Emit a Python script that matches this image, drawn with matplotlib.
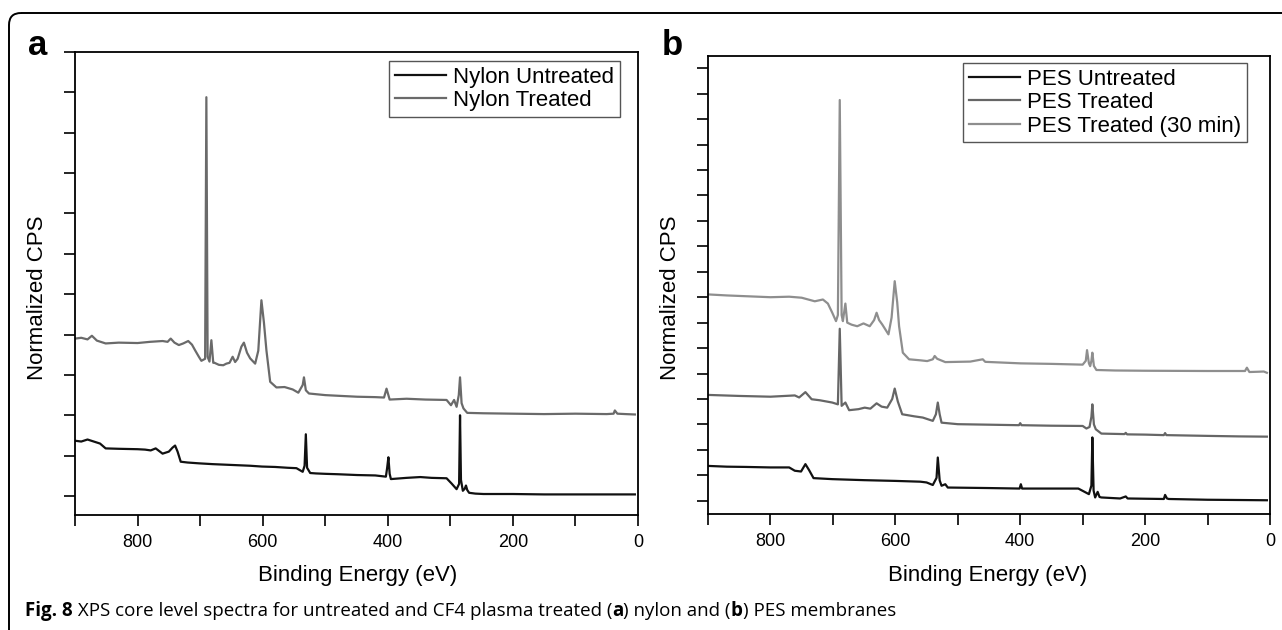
"""
XPS survey spectra, nylon (a) and PES (b) membranes -> out.png
"""
import matplotlib.pyplot as plt
import matplotlib.patches as mpatches
from matplotlib.ticker import MultipleLocator, NullFormatter

plt.rcParams["font.family"] = ["Liberation Sans", "DejaVu Sans"]

# ---------------------------------------------------------------
# DATA  (binding energy eV, normalized CPS in tick units)
# ---------------------------------------------------------------
nylon_untreated = [
    (900, 1.37), (890, 1.35), (880, 1.40), (870, 1.35), (860, 1.30), (851, 1.18),
    (830, 1.17), (800, 1.16), (788, 1.15), (779, 1.13), (771, 1.18), (760, 1.05),
    (750, 1.10), (744, 1.20), (740, 1.25), (736, 1.10), (731, 0.85), (720, 0.83),
    (702, 0.81), (680, 0.79), (650, 0.77), (620, 0.75), (601, 0.73), (580, 0.72),
    (560, 0.70), (546, 0.69), (536, 0.60), (533, 0.75), (531, 1.53), (529, 0.70),
    (524, 0.57), (515, 0.56), (500, 0.55), (480, 0.54), (449, 0.52), (420, 0.51),
    (403, 0.48), (401, 0.70), (399, 0.96), (397, 0.55), (395, 0.42), (370, 0.45),
    (348, 0.47), (330, 0.45), (306, 0.44), (298, 0.31), (290, 0.17), (286, 0.30),
    (284.5, 2.00), (283, 0.40), (280, 0.13), (277, 0.18), (275, 0.26), (273, 0.15),
    (270, 0.08), (260, 0.06), (247, 0.05), (200, 0.05), (150, 0.04), (100, 0.04),
    (50, 0.04), (5, 0.04),
]
nylon_treated = [
    (900, 3.90), (890, 3.92), (880, 3.88), (873, 3.97), (865, 3.85), (851, 3.78),
    (830, 3.80), (800, 3.79), (780, 3.82), (760, 3.84), (752, 3.82), (747, 3.90),
    (741, 3.80), (734, 3.74), (727, 3.78), (719, 3.84), (713, 3.75), (708, 3.61),
    (702, 3.45), (698, 3.35), (692, 3.40), (690, 9.88), (688, 3.45), (685, 3.33),
    (682, 3.86), (679, 3.30), (677, 3.30), (670, 3.25), (663, 3.24), (658, 3.28),
    (653, 3.30), (648, 3.45), (644, 3.32), (640, 3.40), (634, 3.70), (630, 3.80),
    (625, 3.55), (620, 3.41), (612, 3.28), (607, 3.60), (602, 4.85), (598, 4.30),
    (594, 3.61), (588, 2.83), (578, 2.69), (565, 2.70), (552, 2.64), (543, 2.56),
    (536, 2.75), (534, 2.94), (531, 2.62), (526, 2.54), (500, 2.50), (475, 2.48),
    (449, 2.46), (420, 2.45), (406, 2.44), (402, 2.66), (397, 2.39), (370, 2.41),
    (340, 2.39), (306, 2.38), (299, 2.25), (294, 2.38), (290, 2.21), (286.5, 2.50),
    (284.5, 2.94), (282, 2.30), (279, 2.17), (273, 2.06), (247, 2.05), (200, 2.04),
    (150, 2.03), (100, 2.04), (50, 2.03), (39, 2.04), (37, 2.12), (33, 2.04),
    (20, 2.03), (5, 2.02),
]
pes_untreated = [
    (900, 1.37), (870, 1.34), (840, 1.33), (800, 1.31), (770, 1.31), (761, 1.18),
    (751, 1.15), (744, 1.44), (738, 1.20), (731, 0.89), (701, 0.85), (650, 0.81),
    (599, 0.78), (560, 0.75), (550, 0.72), (540, 0.62), (534, 0.90), (532, 1.70),
    (529, 0.80), (526, 0.59), (520, 0.65), (516, 0.52), (451, 0.50), (401, 0.48),
    (399, 0.65), (397, 0.48), (350, 0.48), (307, 0.48), (300, 0.39), (290, 0.26),
    (286, 0.60), (284.5, 2.49), (282.5, 0.40), (280, 0.13), (276, 0.35), (273, 0.15),
    (270, 0.13), (240, 0.09), (231, 0.17), (228, 0.09), (200, 0.08), (170, 0.07),
    (168, 0.23), (165, 0.09), (162, 0.07), (100, 0.04), (50, 0.03), (5, 0.02),
]
pes_treated = [
    (900, 4.16), (850, 4.12), (800, 4.09), (761, 4.14), (754, 4.06), (744, 4.27),
    (734, 3.99), (721, 3.95), (701, 3.86), (692, 3.79), (689, 6.76), (686, 3.73),
    (680, 3.86), (674, 3.56), (659, 3.60), (649, 3.66), (640, 3.62), (630, 3.83),
    (622, 3.70), (613, 3.66), (605, 4.00), (601, 4.41), (596, 3.90), (589, 3.40),
    (570, 3.32), (556, 3.27), (540, 3.14), (535, 3.40), (532, 3.86), (529, 3.40),
    (526, 3.07), (500, 3.01), (450, 2.99), (402, 2.97), (400, 3.05), (398, 2.97),
    (350, 2.95), (300, 2.94), (294, 2.84), (289, 2.90), (286, 3.30), (284.5, 3.79),
    (282, 3.00), (279, 2.81), (270, 2.64), (233, 2.62), (231, 2.67), (229, 2.61),
    (200, 2.60), (170, 2.58), (168, 2.66), (166, 2.58), (100, 2.55), (50, 2.53),
    (5, 2.52),
]
pes_treated_30 = [
    (900, 8.11), (870, 8.07), (840, 8.04), (800, 8.00), (770, 8.02), (750, 7.98),
    (729, 7.84), (716, 7.91), (708, 7.75), (701, 7.39), (695, 7.06), (692, 7.30),
    (689, 15.75), (686, 7.30), (684, 7.06), (680, 7.75), (677, 7.00), (670, 6.92),
    (661, 6.86), (651, 6.97), (641, 6.86), (634, 7.10), (630, 7.39), (626, 7.10),
    (621, 6.93), (611, 6.54), (606, 7.20), (601, 8.63), (597, 7.80), (594, 6.86),
    (588, 5.82), (578, 5.56), (560, 5.52), (549, 5.49), (540, 5.56), (537, 5.69),
    (533, 5.58), (520, 5.45), (480, 5.47), (460, 5.56), (456, 5.46), (399, 5.40),
    (350, 5.38), (300, 5.35), (295, 5.50), (293, 5.92), (290, 5.40), (288, 5.29),
    (286, 5.50), (284.5, 5.82), (282, 5.30), (278, 5.14), (248, 5.12), (200, 5.11),
    (100, 5.10), (40, 5.10), (37, 5.23), (33, 5.06), (20, 5.07), (10, 5.08),
    (5, 5.03),
]

labels_a = ["Nylon Untreated", "Nylon Treated"]
labels_b = ["PES Untreated", "PES Treated", "PES Treated (30 min)"]
colors_a = ["#111111", "#6a6a6a"]
colors_b = ["#111111", "#666666", "#8e8e8e"]

caption = [("Fig. 8", "bold"),
           (" XPS core level spectra for untreated and CF4 plasma treated (", "normal"),
           ("a", "bold"), (") nylon and (", "normal"), ("b", "bold"),
           (") PES membranes", "normal")]

# ---------------------------------------------------------------
# FIGURE (everything placed in pixel units of the 1282x630 output)
# ---------------------------------------------------------------
W, H = 1282, 630
fig = plt.figure(figsize=(W / 100, H / 100), dpi=100)


def px_axes(x0, y0, x1, y1):
    return fig.add_axes([x0 / W, 1 - y1 / H, (x1 - x0) / W, (y1 - y0) / H])


# outer rounded frame (runs off the right and bottom edges)
frame = fig.add_axes([0, 0, 1, 1])
frame.set_xlim(0, W)
frame.set_ylim(H, 0)
frame.axis("off")
frame.add_patch(mpatches.FancyBboxPatch((9, 13), 1320, 700,
                                        boxstyle="round,pad=0,rounding_size=12",
                                        fill=False, edgecolor="black", lw=1.4))


def style(ax, nticks, ylim):
    ax.set_xlim(900, 0)
    ax.set_ylim(*ylim)
    ax.xaxis.set_major_locator(MultipleLocator(200))
    ax.xaxis.set_minor_locator(MultipleLocator(100))
    ax.xaxis.set_minor_formatter(NullFormatter())
    ax.set_yticks(range(nticks))
    ax.set_yticklabels([])
    ax.tick_params(which="both", direction="out", length=8, width=1.2,
                   top=False, right=False, labelsize=13, pad=6)
    for sp in ax.spines.values():
        sp.set_linewidth(1.3)


def plot_series(ax, series, labels, colors):
    for data, lab, col in zip(series, labels, colors):
        ev, cps = zip(*data)
        ax.plot(ev, cps, color=col, lw=1.6, label=lab)


ax_a = px_axes(75, 52, 638, 515)
style(ax_a, 12, (-0.47, 11.0))
plot_series(ax_a, [nylon_untreated, nylon_treated], labels_a, colors_a)

ax_b = px_axes(708, 56, 1270, 514)
style(ax_b, 18, (-0.52, 17.48))
plot_series(ax_b, [pes_untreated, pes_treated, pes_treated_30], labels_b, colors_b)

leg_kw = dict(loc="upper left", borderaxespad=0, fontsize=16, handlelength=2.3,
              handletextpad=0.35, borderpad=0.25, labelspacing=0.12,
              fancybox=False, framealpha=1, edgecolor="#555555")
leg = ax_a.legend(bbox_to_anchor=((389 - 75) / 563, 1 - (61 - 52) / 463), **leg_kw)
leg.get_frame().set_linewidth(1.0)
leg = ax_b.legend(bbox_to_anchor=((963 - 708) / 562, 1 - (63 - 56) / 458), **leg_kw)
leg.get_frame().set_linewidth(1.0)

# panel letters, axis titles
fig.text(38 / W, 1 - 55 / H, "a", fontsize=25, fontweight="bold", ha="center", va="baseline")
fig.text(672 / W, 1 - 55 / H, "b", fontsize=25, fontweight="bold", ha="center", va="baseline")
for x in (38, 671):
    fig.text(x / W, 1 - 298 / H, "Normalized CPS", fontsize=16, rotation=90,
             ha="center", va="center")
for x in (358, 988):
    fig.text(x / W, 1 - 575 / H, "Binding Energy (eV)", fontsize=16,
             ha="center", va="center")

# caption, mixed bold / normal runs
fig.canvas.draw()
rend = fig.canvas.get_renderer()
x = 25
for txt, wt in caption:
    t = fig.text(x / W, 1 - 611 / H, txt, fontsize=13.5, fontweight=wt,
                 family=["Open Sans", "DejaVu Sans"], ha="left", va="center")
    x += t.get_window_extent(rend).width

fig.savefig("out.png", dpi=100, facecolor="white")
